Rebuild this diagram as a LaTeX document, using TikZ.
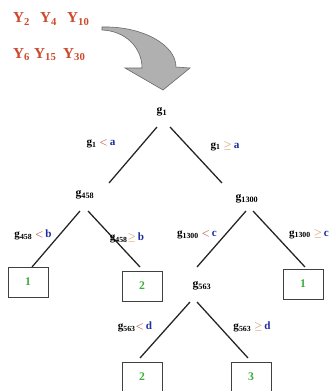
\documentclass[tikz,border=0pt]{standalone}
\usepackage{fontspec}
\setmainfont{Liberation Serif}
\usepackage{xcolor}
\definecolor{yred}{HTML}{CC4A2C}
\definecolor{leafgreen}{HTML}{3DAE3D}
\definecolor{cutblue}{HTML}{1F2C9C}
\definecolor{ltred}{HTML}{B0392C}
\definecolor{georange}{HTML}{C88A50}
\definecolor{arrowgray}{HTML}{B0B0B0}
\tikzset{
  gene/.style={font=\fontsize{10}{12}\selectfont\bfseries,inner sep=1pt},
  rulelab/.style={font=\fontsize{9.5}{11}\selectfont\bfseries,inner sep=1pt},
  leaf/.style={draw=black!75,line width=.7pt,minimum width=1.2cm,minimum height=.9cm,
    font=\fontsize{10}{12}\selectfont\bfseries,text=leafgreen},
  branch/.style={line width=1.1pt,black!85},
  ylab/.style={font=\fontsize{13}{15}\selectfont\bfseries,text=yred,inner sep=0,anchor=base west},
}
\newcommand{\gsub}[1]{g\textsubscript{#1}}
\newcommand{\cutlt}[1]{\textcolor{ltred}{$<$}\,\textcolor{cutblue}{#1}}
\newcommand{\cutge}[1]{\textcolor{georange}{$\geq$}\,\textcolor{cutblue}{#1}}

\begin{document}
\begin{tikzpicture}[x=0.03cm,y=-0.03cm]
\useasboundingbox (0,0) rectangle (332,391);
% selected genes
\node[ylab] (y2) at (13,23) {Y\textsubscript{2}};
\node[ylab] (y4) at (40,23) {Y\textsubscript{4}};
\node[ylab] (y10) at (67,23) {Y\textsubscript{10}};
\node[ylab] (y6) at (13,58) {Y\textsubscript{6}};
\node[ylab] (y15) at (34,58) {Y\textsubscript{15}};
\node[ylab] (y30) at (63,58) {Y\textsubscript{30}};
\filldraw[fill=arrowgray,draw=black!60,line width=.5pt] (102,27) .. controls (143,26) and (176,45) .. (176,67)
  -- (190,68) -- (163,90) -- (125,68) -- (142,68) .. controls (142,48) and (126,31) .. (102,30) -- cycle;
% tree
\node[gene] (g1) at (162,112) {\gsub{1}};
\node[gene] (g458) at (85,195) {\gsub{458}};
\node[gene] (g1300) at (247,199) {\gsub{1300}};
\node[gene] (g563) at (202,286) {\gsub{563}};
\node[leaf] (l1) at (28,282) {1};
\node[leaf] (l2) at (142,286) {2};
\node[leaf] (l3) at (303,284) {1};
\node[leaf] (l4) at (142,377) {2};
\node[leaf] (l5) at (251,377) {3};
\draw[branch] ([shift={(-5,15)}]g1.center) -- ([shift={(24,-12)}]g458.center);
\draw[branch] ([shift={(8,15)}]g1.center) -- ([shift={(-25,-16)}]g1300.center);
\draw[branch] ([shift={(-5,16)}]g458.center) -- ([shift={(4,-15)}]l1.center);
\draw[branch] ([shift={(3,16)}]g458.center) -- ([shift={(-2,-19)}]l2.center);
\draw[branch] ([shift={(-1,12)}]g1300.center) -- ([shift={(-5,-19)}]g563.center);
\draw[branch] ([shift={(6,12)}]g1300.center) -- ([shift={(2,-17)}]l3.center);
\draw[branch] ([shift={(-12,16)}]g563.center) -- ([shift={(-2,-19)}]l4.center);
\draw[branch] ([shift={(-5,16)}]g563.center) -- ([shift={(-3,-19)}]l5.center);
% split rules
\node[rulelab] (r1) at (101,144) {\gsub{1} \cutlt{a}};
\node[rulelab] (r2) at (225,146) {\gsub{1} \cutge{a}};
\node[rulelab] (r3) at (33,235) {\gsub{458} \cutlt{b}};
\node[rulelab] (r4) at (127,238) {\gsub{458}\cutge{b}};
\node[rulelab] (r5) at (197,235) {\gsub{1300} \cutlt{c}};
\node[rulelab] (r6) at (309,234) {\gsub{1300} \cutge{c}};
\node[rulelab] (r7) at (135,327) {\gsub{563}\cutlt{d}};
\node[rulelab] (r8) at (252,327) {\gsub{563} \cutge{d}};
\end{tikzpicture}
\end{document}
